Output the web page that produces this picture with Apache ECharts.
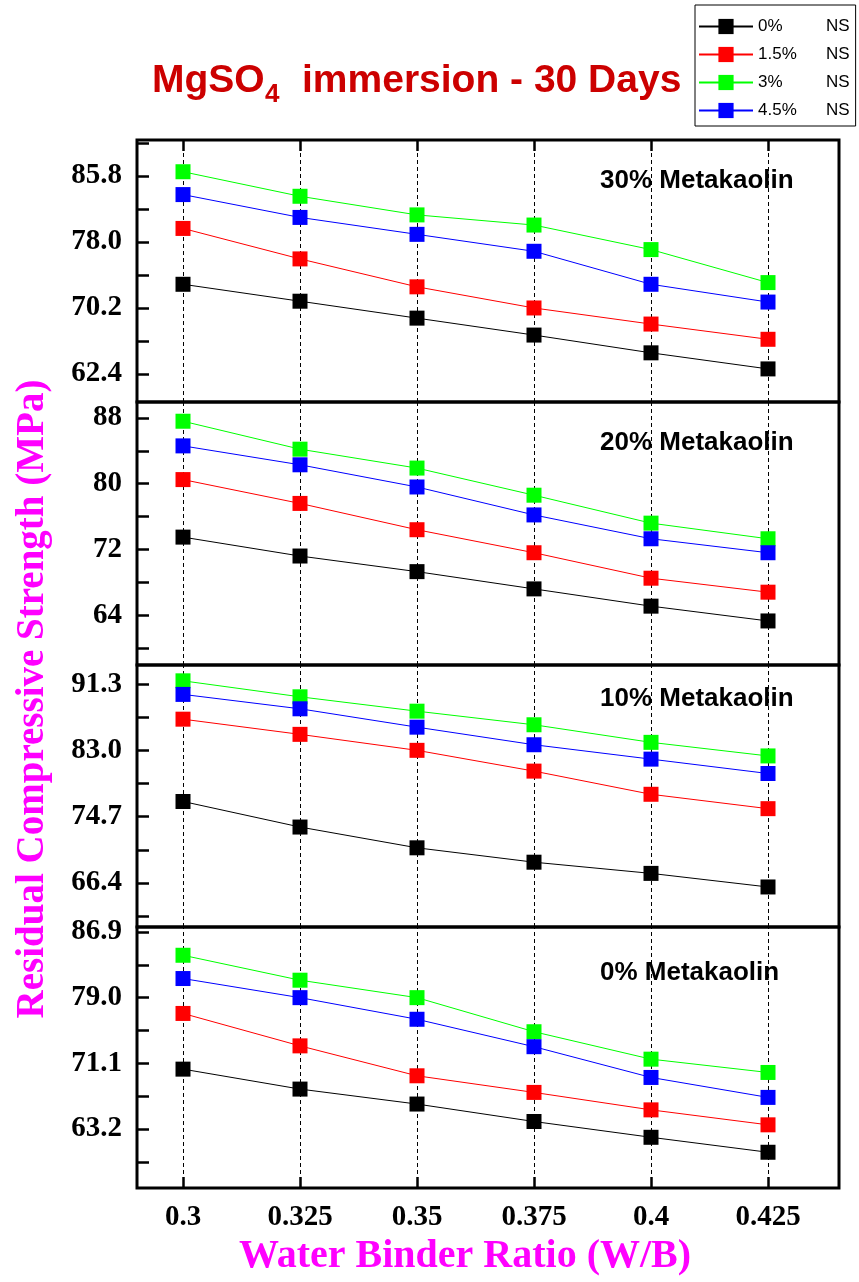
<!DOCTYPE html>
<html>
<head>
<meta charset="utf-8">
<script src="https://cdn.jsdelivr.net/npm/echarts@6/dist/echarts.min.js"></script>
<style>
  html, body { margin: 0; padding: 0; background: #fff; }
  #chart { width: 859px; height: 1282px; }
</style>
</head>
<body>
<div id="chart"></div>
<script>
// W/B ratios
const xValues = [0.3, 0.325, 0.35, 0.375, 0.4, 0.425];
const seriesNames = ['0%', '1.5%', '3%', '4.5%'];
const seriesColors = ['#000000', '#ff0000', '#00ff00', '#0000ff'];
const panelLabels = ['30% Metakaolin', '20% Metakaolin', '10% Metakaolin', '0% Metakaolin'];

// 30% metakaolin
const mk30_ns0 = [73.0, 71.0, 69.0, 67.0, 64.9, 63.0];
const mk30_ns15 = [79.6, 76.0, 72.7, 70.2, 68.3, 66.5];
const mk30_ns3 = [86.3, 83.4, 81.2, 80.0, 77.1, 73.2];
const mk30_ns45 = [83.6, 80.9, 78.9, 76.9, 73.0, 70.9];
// 20% metakaolin
const mk20_ns0 = [73.5, 71.2, 69.3, 67.2, 65.1, 63.3];
const mk20_ns15 = [80.5, 77.6, 74.4, 71.6, 68.5, 66.8];
const mk20_ns3 = [87.6, 84.2, 81.9, 78.6, 75.2, 73.3];
const mk20_ns45 = [84.6, 82.3, 79.6, 76.2, 73.3, 71.6];
// 10% metakaolin
const mk10_ns0 = [76.6, 73.4, 70.8, 69.0, 67.6, 65.9];
const mk10_ns15 = [86.9, 85.0, 83.0, 80.4, 77.5, 75.7];
const mk10_ns3 = [91.7, 89.7, 87.9, 86.2, 84.0, 82.3];
const mk10_ns45 = [90.0, 88.2, 85.9, 83.7, 81.9, 80.1];
// 0% metakaolin
const mk0_ns0 = [70.4, 68.0, 66.2, 64.1, 62.2, 60.4];
const mk0_ns15 = [77.1, 73.2, 69.6, 67.6, 65.5, 63.7];
const mk0_ns3 = [84.1, 81.1, 79.0, 74.9, 71.6, 70.0];
const mk0_ns45 = [81.3, 79.0, 76.4, 73.1, 69.4, 67.0];

// y tick labels per panel (top to bottom)
const yLabels30 = [62.4, 70.2, 78.0, 85.8];
const yTicks30 = [62.4, 66.3, 70.2, 74.1, 78.0, 81.9, 85.8, 89.7];
const yLabels20 = [64, 72, 80, 88];
const yTicks20 = [60, 64, 68, 72, 76, 80, 84, 88];
const yLabels10 = [66.4, 74.7, 83.0, 91.3];
const yTicks10 = [62.25, 66.4, 70.55, 74.7, 78.85, 83.0, 87.15, 91.3];
const yLabels0 = [63.2, 71.1, 79.0, 86.9];
const yTicks0 = [59.25, 63.2, 67.15, 71.1, 75.05, 79.0, 82.95, 86.9];

const panelData = [
    [mk30_ns0, mk30_ns15, mk30_ns3, mk30_ns45],
    [mk20_ns0, mk20_ns15, mk20_ns3, mk20_ns45],
    [mk10_ns0, mk10_ns15, mk10_ns3, mk10_ns45],
    [mk0_ns0, mk0_ns15, mk0_ns3, mk0_ns45]
];

// layout of the four stacked panels
const panelTop = [140, 402, 665, 927];
const panelHeight = [262, 263, 262, 261];
const yRange = [[59.09, 90.05], [57.94, 89.94], [60.89, 93.68], [56.1, 87.5]];
const yLabelSets = [yLabels30, yLabels20, yLabels10, yLabels0];
const yTickSets = [yTicks30, yTicks20, yTicks10, yTicks0];
const yDecimals = [1, 0, 1, 1];
const panelLabelY = [181, 443, 699, 973];

const serif = '"Liberation Serif", "Times New Roman", serif';
const sans = '"Liberation Sans", Arial, sans-serif';

const chart = echarts.init(document.getElementById('chart'));

const grid = panelTop.map((top, i) => ({
    left: 137,
    right: 20,
    top: top,
    height: panelHeight[i],
    show: true,
    borderColor: '#000',
    borderWidth: 3,
    backgroundColor: 'transparent'
}));

const xAxis = panelTop.map((top, i) => ({
    type: 'value',
    gridIndex: i,
    min: 0.29017,
    max: 0.44017,
    position: i === 0 ? 'top' : 'bottom',
    axisLine: { show: false },
    splitLine: { show: false },
    axisTick: {
        show: i === 0 || i === 3,
        inside: true,
        length: 11,
        lineStyle: { color: '#000', width: 2.5 },
        customValues: xValues
    },
    axisLabel: {
        show: i === 3,
        customValues: xValues,
        margin: 15,
        fontFamily: serif,
        fontWeight: 'bold',
        fontSize: 29,
        color: '#000',
        formatter: v => String(v)
    }
}));

const yAxis = panelTop.map((top, i) => ({
    type: 'value',
    gridIndex: i,
    min: yRange[i][0],
    max: yRange[i][1],
    axisLine: { show: false },
    splitLine: { show: false },
    axisTick: {
        show: true,
        inside: true,
        length: 12,
        lineStyle: { color: '#000', width: 2.5 },
        customValues: yTickSets[i]
    },
    axisLabel: {
        customValues: yLabelSets[i],
        margin: 15,
        fontFamily: serif,
        fontWeight: 'bold',
        fontSize: 29,
        color: '#000',
        formatter: v => v.toFixed(yDecimals[i])
    }
}));

const series = [];
panelData.forEach((sets, p) => {
    sets.forEach((vals, s) => {
        const item = {
            name: seriesNames[s],
            type: 'line',
            xAxisIndex: p,
            yAxisIndex: p,
            data: vals.map((v, k) => [xValues[k], v]),
            symbol: 'rect',
            symbolSize: 15,
            color: seriesColors[s],
            lineStyle: { color: seriesColors[s], width: 1 },
            itemStyle: { color: seriesColors[s] },
            emphasis: { disabled: true },
            z: 3 + s
        };
        if (s === 0) {
            // dashed verticals at each W/B ratio
            item.markLine = {
                silent: true,
                symbol: 'none',
                precision: 4,
                label: { show: false },
                lineStyle: { color: '#000', width: 1, type: [4, 3] },
                data: xValues.map(x => ({ xAxis: x })),
                z: 1
            };
        }
        series.push(item);
    });
});

const graphic = [
    { type: 'text', x: 152, y: 81, style: { text: 'MgSO', font: 'bold 39px ' + sans, fill: '#cc0000', verticalAlign: 'middle' } },
    { type: 'text', x: 265, y: 95, style: { text: '4', font: 'bold 26px ' + sans, fill: '#cc0000', verticalAlign: 'middle' } },
    { type: 'text', x: 302, y: 81, style: { text: 'immersion - 30 Days', font: 'bold 39px ' + sans, fill: '#cc0000', verticalAlign: 'middle' } },
    {
        type: 'text', x: 33, y: 699, rotation: Math.PI / 2,
        style: { text: 'Residual Compressive Strength (MPa)', font: 'bold 39px ' + serif, fill: '#ff00ff', align: 'center', verticalAlign: 'middle' }
    },
    {
        type: 'text', x: 465, y: 1257,
        style: { text: 'Water Binder Ratio (W/B)', font: 'bold 40px ' + serif, fill: '#ff00ff', align: 'center', verticalAlign: 'middle' }
    }
].concat(panelLabels.map((t, i) => ({
    type: 'text', x: 600, y: panelLabelY[i], z: 10,
    style: { text: t, font: 'bold 26px ' + sans, fill: '#000', verticalAlign: 'middle' }
})));

chart.setOption({
    animation: false,
    backgroundColor: '#fff',
    grid: grid,
    xAxis: xAxis,
    yAxis: yAxis,
    series: series,
    graphic: graphic,
    legend: {
        data: seriesNames,
        orient: 'vertical',
        left: 695,
        top: 5,
        itemWidth: 54,
        itemHeight: 19,
        itemGap: 11,
        padding: [13, 6, 7, 3],
        borderColor: '#000',
        borderWidth: 1,
        selectedMode: false,
        formatter: name => '{n|' + name + '}{s|NS}',
        textStyle: {
            fontFamily: sans,
            fontSize: 17,
            color: '#000',
            rich: {
                n: { width: 68, fontSize: 17, fontFamily: sans },
                s: { fontSize: 17, fontFamily: sans }
            }
        }
    }
});
</script>
</body>
</html>
